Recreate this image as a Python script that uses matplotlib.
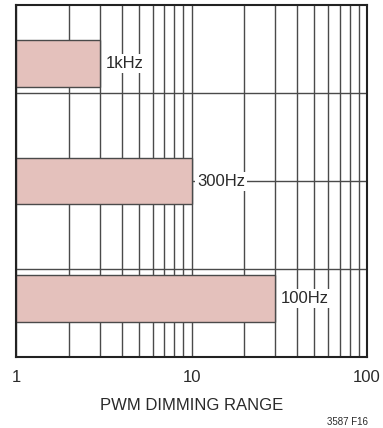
import matplotlib
matplotlib.use("Agg")
import matplotlib.pyplot as plt
from matplotlib.ticker import LogLocator, NullFormatter, FixedLocator

plt.rcParams["font.family"] = ["Liberation Sans Narrow", "Liberation Sans", "DejaVu Sans"]

frecuencias = ["1kHz", "300Hz", "100Hz"]
rango_max = [3, 10, 30]
posiciones = [10, 6, 2]

BARRA = "#e4c1bc"
GRIS = "#4a4a4a"
TEXTO = "#2a2a2a"

fig = plt.figure(figsize=(3.83, 4.28), dpi=100)
ax = fig.add_axes([16 / 383, 1 - 357 / 428, 351 / 383, 352 / 428])

ax.set_xscale("log")
ax.set_xlim(1, 100)
ax.set_ylim(0, 12)

ax.xaxis.set_major_locator(FixedLocator([1, 10, 100]))
ax.xaxis.set_minor_locator(LogLocator(base=10, subs=range(2, 10)))
ax.xaxis.set_minor_formatter(NullFormatter())
ax.set_xticklabels(["1", "10", "100"])
ax.yaxis.set_major_locator(FixedLocator([3, 6, 9]))
ax.set_yticklabels([])
ax.tick_params(which="both", length=0, labelsize=12, pad=9, colors=TEXTO)

ax.grid(True, which="both", axis="x", color=GRIS, linewidth=1.0)
ax.grid(True, which="major", axis="y", color=GRIS, linewidth=1.0)
ax.set_axisbelow(True)

ax.barh(posiciones, [v - 1 for v in rango_max], left=1, height=1.6,
        color=BARRA, edgecolor=GRIS, linewidth=1.0, zorder=2)

for nombre, valor, y in zip(frecuencias, rango_max, posiciones):
    ax.text(valor * 1.08, y, nombre, ha="left", va="center", fontsize=12,
            color=TEXTO, zorder=3,
            bbox=dict(facecolor="white", edgecolor="none", pad=1.5))

for lado in ax.spines.values():
    lado.set_color("#222222")
    lado.set_linewidth(1.5)

ax.set_xlabel("PWM DIMMING RANGE", fontsize=12, color=TEXTO, labelpad=10)
fig.text(368 / 383, 1 - 422 / 428, "3587 F16", ha="right", va="center",
         fontsize=7, color=TEXTO)

fig.savefig("out.png", dpi=100)
